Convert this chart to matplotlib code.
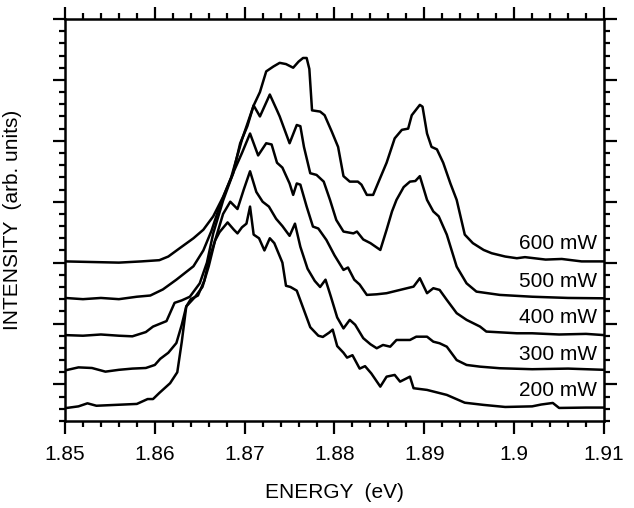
### Importando bibliotecas
import matplotlib
matplotlib.use('Agg')
import matplotlib.pyplot as plt
from matplotlib.ticker import MultipleLocator

### Dados (energia em eV, intensidade em unidades arbitrarias)
e_600 = [1.850, 1.853, 1.856, 1.8585, 1.8605, 1.8615, 1.8628, 1.8643, 1.8654, 1.8665, 1.8676, 1.8687,
         1.8695, 1.8703, 1.8710, 1.8717, 1.8724, 1.8732, 1.8739, 1.8746, 1.8754, 1.8760, 1.8765, 1.8769,
         1.8772, 1.8775, 1.8784, 1.8789, 1.8797, 1.8804, 1.8810, 1.8817, 1.8826, 1.8830, 1.8836, 1.8843,
         1.8850, 1.8858, 1.8867, 1.8875, 1.8882, 1.8886, 1.8895, 1.8898, 1.8903, 1.8908, 1.8914, 1.8921,
         1.8929, 1.8936, 1.8945, 1.8954, 1.8966, 1.8975, 1.8990, 1.9003, 1.9012, 1.9035, 1.9053, 1.9075, 1.910]
i_600 = [10.1, 10.05, 10.0, 10.1, 10.2, 10.5, 11.2, 12.0, 12.7, 13.8, 15.4, 17.3,
         19.8, 21.2, 22.9, 24.0, 25.7, 26.1, 26.4, 26.3, 26.0, 26.5, 26.8, 26.8,
         25.9, 22.5, 22.4, 22.1, 20.75, 19.5, 17.1, 16.65, 16.65, 16.4, 15.56, 15.56,
         16.8, 18.2, 20.2, 20.9, 21.0, 22.1, 22.95, 22.8, 20.6, 19.5, 19.3, 18.2,
         16.5, 15.15, 12.3, 11.6, 11.04, 10.77, 10.5, 10.36, 10.45, 10.25, 10.3, 10.1, 10.1]

e_500 = [1.850, 1.852, 1.854, 1.856, 1.858, 1.8595, 1.8609, 1.8624, 1.8643, 1.8654, 1.8663, 1.8672,
         1.8685, 1.8697, 1.8710, 1.8717, 1.8728, 1.8736, 1.8739, 1.8750, 1.8758, 1.8762, 1.8766, 1.8773,
         1.8780, 1.8788, 1.8795, 1.8802, 1.8810, 1.8821, 1.8825, 1.8832, 1.8840, 1.8851, 1.8858, 1.8864,
         1.8869, 1.8877, 1.8884, 1.8890, 1.8895, 1.8903, 1.8910, 1.8916, 1.8925, 1.8936, 1.8947, 1.8958,
         1.8984, 1.902, 1.906, 1.910]
i_500 = [7.1, 7.0, 7.1, 7.0, 7.2, 7.3, 7.8, 8.6, 9.7, 11.0, 12.6, 14.6,
         17.0, 20.1, 22.9, 22.0, 23.8, 22.5, 22.0, 19.8, 21.3, 21.2, 19.5, 17.34,
         17.2, 16.65, 15.15, 13.5, 12.55, 12.4, 12.55, 11.9, 11.6, 11.04, 12.7, 14.2,
         15.15, 16.2, 16.65, 16.7, 17.1, 15.15, 14.2, 13.8, 12.3, 9.67, 8.3, 7.62,
         7.35, 7.2, 7.1, 7.07]

e_400 = [1.850, 1.852, 1.854, 1.856, 1.8575, 1.859, 1.8598, 1.8613, 1.8622, 1.8630, 1.8639, 1.8650,
         1.8658, 1.8665, 1.8676, 1.8688, 1.8697, 1.8706, 1.8715, 1.8724, 1.8730, 1.8736, 1.8742, 1.8750,
         1.8754, 1.8758, 1.8762, 1.8769, 1.8776, 1.8782, 1.8791, 1.8800, 1.8810, 1.8815, 1.8822, 1.8828,
         1.8836, 1.8847, 1.8858, 1.8873, 1.8888, 1.8895, 1.8903, 1.8910, 1.8917, 1.8925, 1.8936, 1.8947,
         1.8962, 1.8969, 1.9003, 1.902, 1.905, 1.908, 1.910]
i_400 = [4.05, 4.0, 4.1, 4.0, 3.95, 4.3, 4.75, 5.2, 6.7, 6.9, 7.2, 8.3,
         10.0, 12.4, 15.1, 17.5, 19.0, 20.6, 18.8, 19.8, 19.7, 18.2, 17.8, 16.5,
         15.56, 16.5, 16.4, 14.6, 12.96, 12.8, 11.86, 10.6, 9.4, 9.6, 8.6, 8.2,
         7.35, 7.4, 7.49, 7.76, 8.03, 8.72, 7.49, 7.9, 7.76, 6.94, 5.85, 5.3,
         4.75, 4.34, 4.2, 4.2, 4.1, 4.15, 4.05]

e_300 = [1.850, 1.8515, 1.853, 1.8545, 1.856, 1.8575, 1.859, 1.860, 1.8606, 1.8615, 1.8624, 1.8630,
         1.8635, 1.8645, 1.8653, 1.8660, 1.8667, 1.8676, 1.8684, 1.8692, 1.8699, 1.8706, 1.8713, 1.8720,
         1.8727, 1.8735, 1.8742, 1.8750, 1.8756, 1.8762, 1.8770, 1.8778, 1.8784, 1.8790, 1.8796, 1.8803,
         1.8810, 1.8817, 1.8823, 1.8832, 1.8840, 1.8847, 1.8854, 1.8862, 1.8869, 1.8884, 1.8891, 1.8903,
         1.8910, 1.8917, 1.8925, 1.8936, 1.8947, 1.8962, 1.8984, 1.902, 1.906, 1.910]
i_300 = [1.15, 1.4, 1.35, 1.05, 1.2, 1.3, 1.35, 1.6, 2.1, 2.6, 3.4, 4.9,
         6.4, 7.2, 8.0, 9.7, 11.8, 14.0, 15.0, 14.4, 16.0, 17.5, 15.8, 15.0,
         14.6, 13.6, 13.0, 12.2, 13.2, 11.3, 9.5, 8.5, 8.0, 8.6, 7.2, 5.5,
         4.6, 5.3, 4.9, 3.8, 3.3, 2.97, 3.24, 3.1, 3.65, 3.65, 3.92, 3.92,
         3.51, 3.38, 3.1, 2.0, 1.6, 1.46, 1.33, 1.25, 1.3, 1.2]

e_200 = [1.850, 1.8515, 1.8525, 1.8535, 1.855, 1.8565, 1.858, 1.8592, 1.8598, 1.8605, 1.8617, 1.8625,
         1.8630, 1.8635, 1.8640, 1.8648, 1.8655, 1.8661, 1.8667, 1.8672, 1.8681, 1.8688, 1.8692, 1.8697,
         1.8702, 1.8706, 1.8710, 1.8716, 1.8722, 1.8728, 1.8733, 1.8742, 1.8746, 1.8751, 1.8758, 1.8764,
         1.8773, 1.8782, 1.8787, 1.8794, 1.8798, 1.8803, 1.8810, 1.8814, 1.8820, 1.8828, 1.8834, 1.8841,
         1.8851, 1.8858, 1.8867, 1.8873, 1.8884, 1.8888, 1.8903, 1.8925, 1.8945, 1.8966, 1.899, 1.902,
         1.9030, 1.9043, 1.9050, 1.908, 1.910]
i_200 = [-1.95, -1.8, -1.55, -1.75, -1.7, -1.65, -1.6, -1.2, -1.2, -0.7, 0.1, 1.0,
         3.5, 6.4, 7.0, 7.3, 8.5, 10.4, 11.8, 12.5, 13.3, 12.7, 12.4, 12.9,
         13.2, 14.6, 12.3, 12.0, 11.0, 12.0, 11.6, 10.0, 8.1, 8.0, 7.7, 6.5,
         4.7, 4.0, 3.9, 4.25, 4.5, 3.15, 2.6, 2.2, 2.4, 1.3, 1.5, 0.9,
         -0.18, 0.64, 0.78, 0.23, 0.64, -0.31, -0.45, -0.86, -1.5, -1.68, -1.85, -1.8,
         -1.65, -1.52, -1.93, -1.9, -1.9]

energias = [e_200, e_300, e_400, e_500, e_600]
intensidades = [i_200, i_300, i_400, i_500, i_600]
rotulos = ['200 mW', '300 mW', '400 mW', '500 mW', '600 mW']
pos_rotulo = [-0.5, 2.42, 5.5, 8.44, 11.6]

### Grafico
plt.rcParams['font.family'] = ['Liberation Sans', 'DejaVu Sans']
fig = plt.figure(figsize=(6.34, 5.08), dpi=100)
ax = fig.add_axes([0.1025, 0.1713, 0.8502, 0.7913])

for e, i in zip(energias, intensidades):
    ax.plot(e, i, color='black', linewidth=1.8)

for r, p in zip(rotulos, pos_rotulo):
    ax.text(1.9092, p, r, fontsize=15, ha='right', va='center')

ax.set_xlim(1.85, 1.91)
ax.set_ylim(-3, 30)
ax.xaxis.set_major_locator(MultipleLocator(0.01))
ax.xaxis.set_minor_locator(MultipleLocator(0.002))
ax.yaxis.set_major_locator(MultipleLocator(5))
ax.yaxis.set_minor_locator(MultipleLocator(1))
ax.set_xticks([1.85, 1.86, 1.87, 1.88, 1.89, 1.9, 1.91])
ax.set_xticklabels(['1.85', '1.86', '1.87', '1.88', '1.89', '1.9', '1.91'])
ax.tick_params(which='both', direction='out', top=True, right=True, width=1.6, labelsize=15)
ax.tick_params(which='major', length=9, pad=8)
ax.tick_params(which='minor', length=4.5)
ax.tick_params(axis='y', labelleft=False)
for s in ax.spines.values():
    s.set_linewidth(1.8)

ax.set_xlabel('ENERGY  (eV)', fontsize=15, labelpad=14)
ax.set_ylabel('INTENSITY  (arb. units)', fontsize=15, labelpad=22)

plt.savefig('out.png', dpi=100)
